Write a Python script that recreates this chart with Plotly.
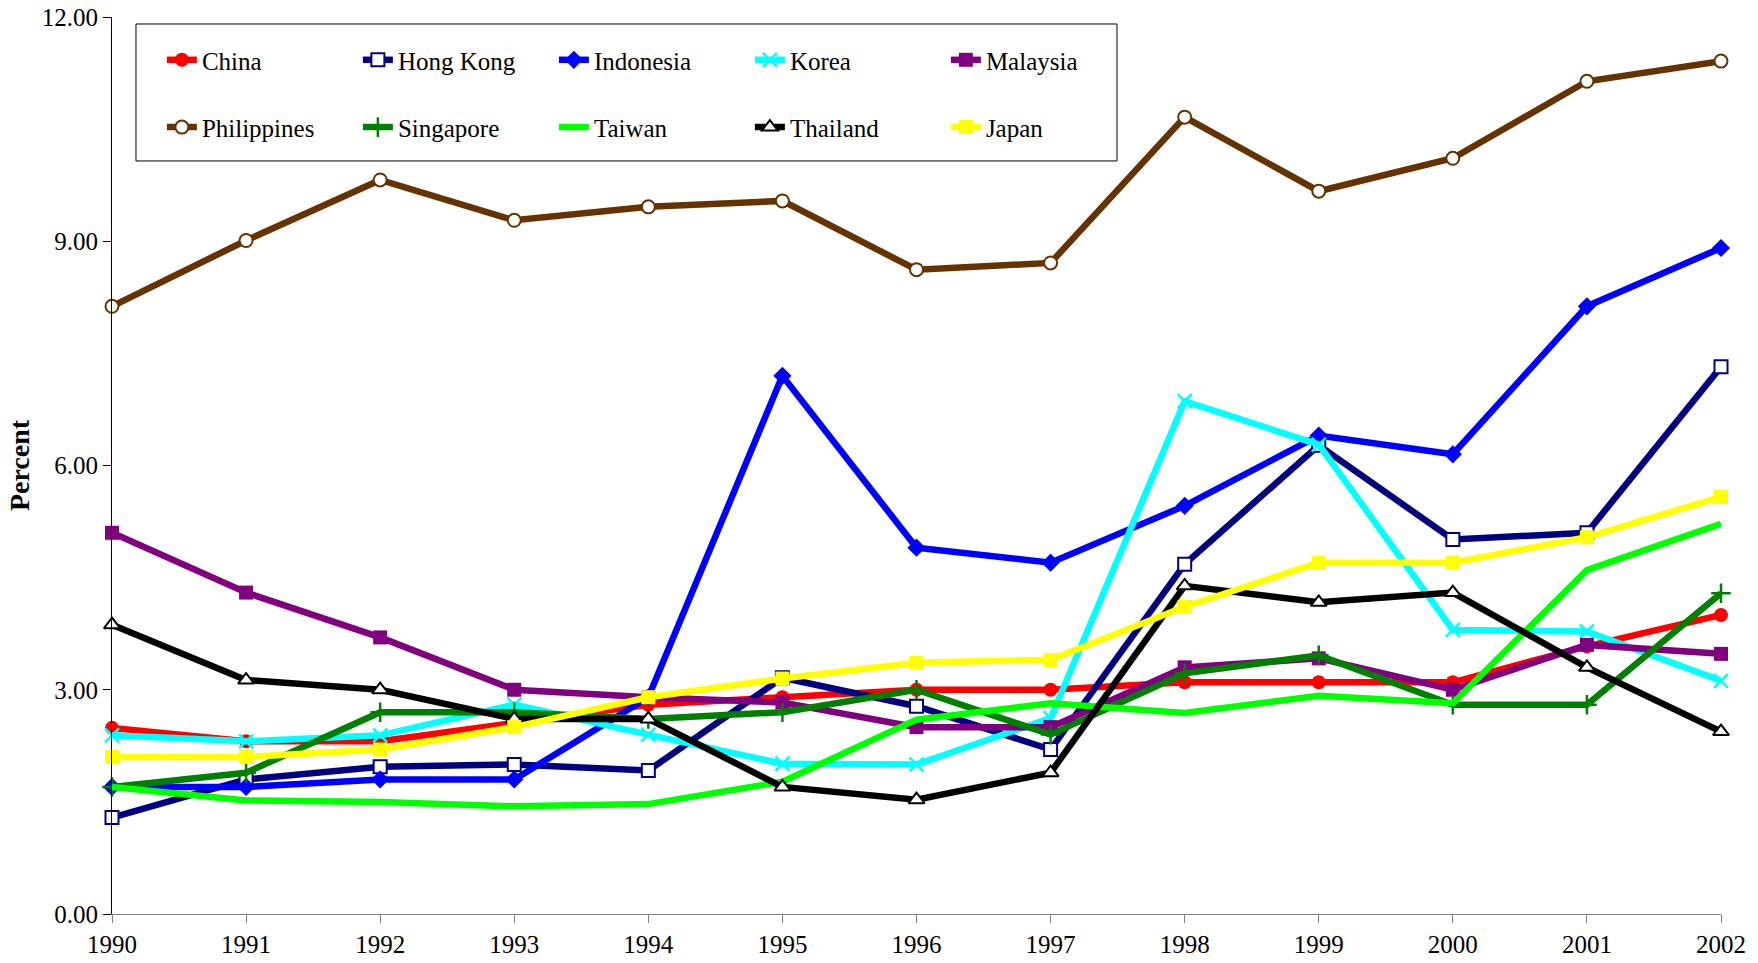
import plotly.graph_objects as go

years = list(range(1990, 2003))

china       = [2.49, 2.31, 2.31, 2.55, 2.80, 2.90, 3.00, 3.00, 3.10, 3.10, 3.10, 3.58, 4.00]
hong_kong   = [1.29, 1.80, 1.97, 2.00, 1.92, 3.16, 2.78, 2.20, 4.68, 6.27, 5.01, 5.10, 7.32]
indonesia   = [1.70, 1.70, 1.80, 1.80, 2.90, 7.20, 4.90, 4.70, 5.46, 6.40, 6.15, 8.13, 8.91]
korea       = [2.39, 2.31, 2.39, 2.80, 2.40, 2.01, 2.00, 2.62, 6.86, 6.28, 3.80, 3.78, 3.12]
malaysia    = [5.10, 4.30, 3.70, 3.00, 2.90, 2.83, 2.50, 2.50, 3.30, 3.42, 3.00, 3.60, 3.48]
philippines = [8.13, 9.01, 9.82, 9.28, 9.46, 9.54, 8.62, 8.71, 10.66, 9.67, 10.11, 11.14, 11.41]
singapore   = [1.70, 1.89, 2.70, 2.70, 2.61, 2.70, 3.00, 2.40, 3.22, 3.46, 2.80, 2.80, 4.29]
taiwan      = [1.70, 1.52, 1.50, 1.44, 1.47, 1.77, 2.60, 2.82, 2.69, 2.92, 2.82, 4.60, 5.22]
thailand    = [3.87, 3.13, 3.00, 2.61, 2.61, 1.70, 1.53, 1.89, 4.39, 4.17, 4.30, 3.30, 2.44]
japan       = [2.10, 2.10, 2.20, 2.50, 2.90, 3.15, 3.36, 3.40, 4.11, 4.70, 4.70, 5.04, 5.58]

y_ticks = [0, 3, 6, 9, 12]

FONT = "Liberation Serif, Times New Roman, serif"

series = [
    ("China", china, "#FF0000", dict(symbol="circle", size=14, color="#FF0000"), "legend"),
    ("Hong Kong", hong_kong, "#000080", dict(symbol="square", size=13, color="white", line=dict(color="#000080", width=2)), "legend"),
    ("Indonesia", indonesia, "#0000FF", dict(symbol="diamond", size=14, color="#0000FF"), "legend"),
    ("Korea", korea, "#00FFFF", dict(symbol="x-thin-open", size=14, color="#00FFFF", line=dict(color="#00FFFF", width=2.5)), "legend"),
    ("Malaysia", malaysia, "#800080", dict(symbol="square", size=14, color="#800080"), "legend"),
    ("Philippines", philippines, "#663300", dict(symbol="circle", size=13, color="white", line=dict(color="#663300", width=2)), "legend2"),
    ("Singapore", singapore, "#008000", dict(symbol="cross-thin-open", size=14, color="#008000", line=dict(color="#008000", width=2.5)), "legend2"),
    ("Taiwan", taiwan, "#00FF00", None, "legend2"),
    ("Thailand", thailand, "#000000", dict(symbol="triangle-up", size=14, color="white", line=dict(color="#000000", width=2)), "legend2"),
    ("Japan", japan, "#FFFF00", dict(symbol="square", size=14, color="#FFFF00"), "legend2"),
]

fig = go.Figure()
for name, vals, col, mk, lg in series:
    kw = dict(x=years, y=vals, name=name, line=dict(color=col, width=6.5),
              mode="lines+markers" if mk else "lines", cliponaxis=False,
              legend=lg, hoverinfo="skip")
    if mk:
        kw["marker"] = mk
    fig.add_trace(go.Scatter(**kw))

legend_common = dict(orientation="h", xanchor="left", yanchor="middle",
                     entrywidth=151, entrywidthmode="pixels",
                     font=dict(family=FONT, size=25, color="black"),
                     bgcolor="rgba(0,0,0,0)", borderwidth=0, traceorder="normal")

fig.update_layout(
    template="none",
    width=1758, height=963,
    margin=dict(l=112, r=37, t=17, b=49, autoexpand=False),
    paper_bgcolor="white", plot_bgcolor="white",
    font=dict(family=FONT, size=25, color="black"),
    showlegend=True,
    legend=dict(x=0.031, y=0.952, **legend_common),
    legend2=dict(x=0.031, y=0.877, **legend_common),
    xaxis=dict(range=[1990, 2002], tickmode="array", tickvals=years,
               ticktext=[str(y) for y in years], automargin=False,
               showline=True, linecolor="#808080", linewidth=1,
               ticks="outside", ticklen=8, tickcolor="#808080",
               showgrid=False, zeroline=False,
               tickfont=dict(family=FONT, size=25)),
    yaxis=dict(range=[0, 12], tickmode="array", tickvals=y_ticks,
               ticktext=[f"{v:.2f}" for v in y_ticks], automargin=False,
               showline=True, linecolor="black", linewidth=1,
               ticks="outside", ticklen=8, tickcolor="black",
               showgrid=False, zeroline=False,
               tickfont=dict(family=FONT, size=25),
               title=dict(text="<b>Percent</b>", font=dict(family=FONT, size=28), standoff=3)),
    shapes=[dict(type="rect", xref="paper", yref="paper",
                 x0=0.0149, x1=0.6246, y0=0.8395, y1=0.9922,
                 line=dict(color="black", width=1), fillcolor="white", layer="below")],
)

fig.write_html("out.html", config={"displayModeBar": False},
               post_script="document.body.style.margin='0';document.body.style.overflow='hidden';")
